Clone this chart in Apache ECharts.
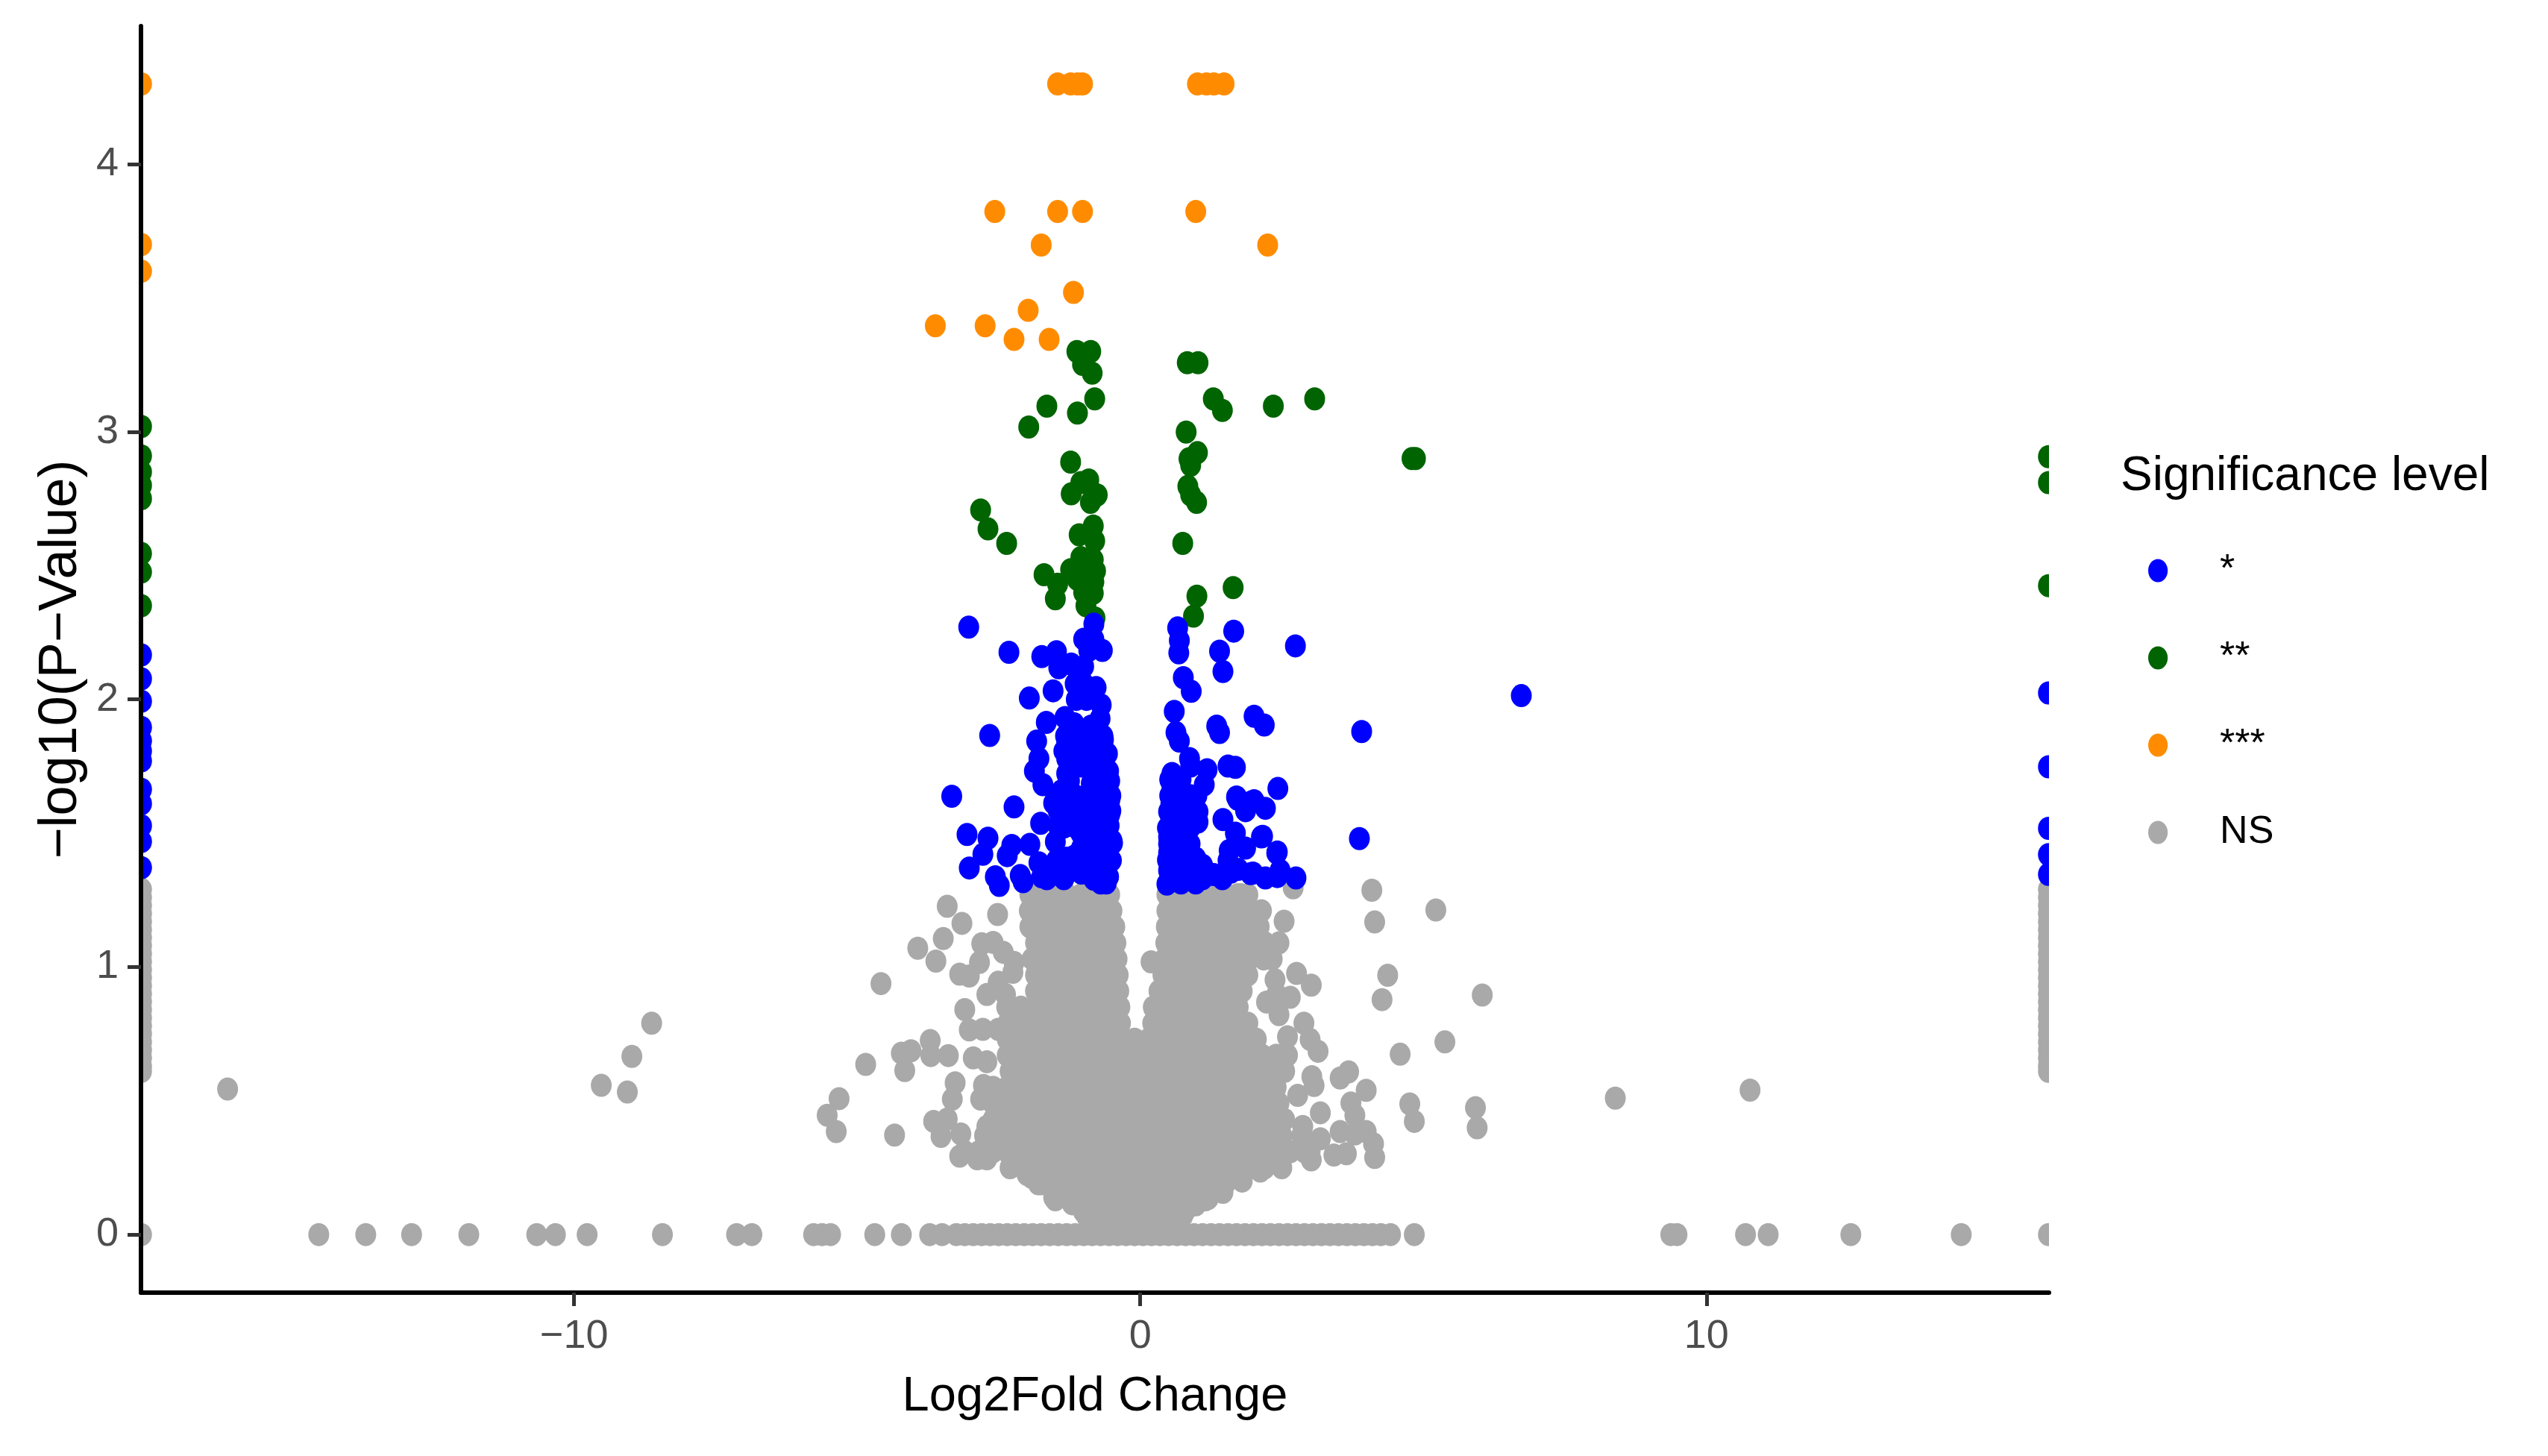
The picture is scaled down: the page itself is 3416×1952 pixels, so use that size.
<!DOCTYPE html>
<html>
<head>
<meta charset="utf-8">
<title>Volcano plot</title>
<script src="https://cdn.jsdelivr.net/npm/echarts@6/dist/echarts.min.js"></script>
<style>
	html, body { margin: 0; padding: 0; background: #ffffff; }
	#main { width: 3416px; height: 1952px; }
</style>
</head>
<body>
<div id="main"></div>
<script>
// tick labels
const xTicks = [-10, 0, 10];
const yTicks = [0, 1, 2, 3, 4];
const levels = ['*', '**', '***', 'NS'];

// *** points, [log2fc, -log10p]
const starThree = [
	[-17.64, 4.30], [-17.64, 3.70], [-17.64, 3.60],
	[-1.46, 4.30], [-1.23, 4.30], [-1.11, 4.30], [-1.02, 4.30],
	[1.01, 4.30], [1.17, 4.30], [1.30, 4.30], [1.48, 4.30],
	[-2.57, 3.823], [-1.46, 3.823], [-1.02, 3.823], [0.98, 3.823],
	[-1.75, 3.698], [2.25, 3.698], [-1.18, 3.521], [-1.98, 3.454],
	[-3.62, 3.396], [-2.74, 3.396], [-2.23, 3.345], [-1.61, 3.345]
];

// ** points
const starTwo = [
	[-17.64, 3.02], [-17.64, 2.91], [-17.64, 2.85], [-17.64, 2.80], [-17.64, 2.75],
	[-17.64, 2.545], [-17.64, 2.476], [-17.64, 2.35],
	[16.04, 2.907], [16.04, 2.81], [16.04, 2.425],
	[-1.12, 3.30], [-0.875, 3.30], [-1.02, 3.252], [-0.85, 3.219], [0.83, 3.258], [1.02, 3.258],
	[-0.805, 3.123], [-1.65, 3.096], [-1.11, 3.07], [1.29, 3.123], [1.45, 3.08], [2.35, 3.096], [3.08, 3.123],
	[-1.97, 3.018], [0.81, 2.999], [1.01, 2.922], [0.86, 2.899], [0.89, 2.875], [-1.23, 2.887],
	[4.80, 2.90], [4.86, 2.90],
	[-0.91, 2.82], [-1.05, 2.81], [-1.22, 2.768], [-0.82, 2.755], [-0.76, 2.764], [-0.88, 2.736],
	[0.84, 2.796], [0.89, 2.764], [0.995, 2.736],
	[-2.82, 2.708], [-2.69, 2.637], [-2.36, 2.583],
	[-0.83, 2.648], [-1.08, 2.615], [-0.805, 2.592], [0.75, 2.583],
	[-0.83, 2.522], [-1.23, 2.485], [-1.70, 2.466], [-0.79, 2.48], [-1.11, 2.448], [-1.46, 2.43],
	[-0.82, 2.439], [-0.99, 2.466], [-1.50, 2.376], [-0.83, 2.397], [-0.96, 2.35], [-0.80, 2.304],
	[-1.05, 2.53], [-0.92, 2.42], [-1.0, 2.40],
	[1.00, 2.386], [1.64, 2.418], [0.94, 2.311]
];

// * points
const starOne = [
	[-17.64, 2.166], [-17.64, 2.077], [-17.64, 1.993], [-17.64, 1.895], [-17.64, 1.845], [-17.64, 1.807],
	[-17.64, 1.77], [-17.64, 1.664], [-17.64, 1.61], [-17.64, 1.528], [-17.64, 1.469], [-17.64, 1.371],
	[16.04, 2.024], [16.04, 1.748], [16.04, 1.518], [16.04, 1.42], [16.04, 1.346],
	[6.73, 2.014], [3.91, 1.88], [3.87, 1.48], [2.74, 2.20],
	[-3.03, 2.27], [-2.32, 2.176], [-1.74, 2.16], [-1.48, 2.178], [-1.44, 2.118],
	[-1.00, 2.225], [-0.82, 2.281], [-0.82, 2.225], [-0.67, 2.183], [-0.91, 2.183], [-1.00, 2.123], [-1.22, 2.132],
	[-1.54, 2.032], [-1.96, 2.005], [-1.15, 2.058], [-0.78, 2.044], [-1.00, 2.058], [-0.69, 1.979], [-0.95, 2.00], [-1.13, 2.00],
	[-2.66, 1.865], [-1.66, 1.914], [-1.33, 1.932], [-1.17, 1.909], [-0.71, 1.928], [-0.87, 1.90],
	[-1.83, 1.844], [-1.30, 1.844], [-0.95, 1.807], [-0.65, 1.849], [-0.82, 1.863], [-0.58, 1.797], [-1.08, 1.85],
	[-1.79, 1.779], [-1.87, 1.732], [-1.30, 1.779], [-1.30, 1.723], [-1.04, 1.751], [-0.78, 1.77], [-0.56, 1.732], [-0.82, 1.714],
	[-1.72, 1.681], [-1.39, 1.658], [-0.56, 1.691], [-0.82, 1.649], [-1.30, 1.677], [-0.865, 1.686],
	[-3.33, 1.638], [-2.23, 1.598], [-1.53, 1.612], [-1.22, 1.612], [-0.95, 1.612], [-0.54, 1.621], [-0.73, 1.593],
	[-0.54, 1.57], [-1.35, 1.565], [-1.09, 1.574], [-0.82, 1.547], [-1.76, 1.537], [-1.35, 1.523], [-0.95, 1.528], [-0.60, 1.528],
	[-3.06, 1.495], [-2.69, 1.481], [-0.49, 1.463], [-0.87, 1.481], [-1.50, 1.468], [-1.05, 1.50],
	[-2.27, 1.454], [-1.95, 1.458], [-2.78, 1.421], [-2.35, 1.416], [-1.04, 1.444], [-1.30, 1.407], [-1.48, 1.398], [-0.78, 1.426], [-0.51, 1.398],
	[-3.02, 1.37], [-1.79, 1.389], [-2.12, 1.342], [-2.56, 1.337], [-2.49, 1.305], [-1.74, 1.337], [-1.48, 1.361], [-1.24, 1.365],
	[-1.00, 1.37], [-0.82, 1.328], [-0.56, 1.337], [-2.07, 1.319], [-1.04, 1.351], [-0.73, 1.361],
	// dense left block
	[-1.32, 1.863], [-1.10, 1.863], [-0.88, 1.863], [-0.66, 1.863],
	[-1.35, 1.807], [-1.12, 1.807], [-0.68, 1.807],
	[-1.20, 1.751], [-0.95, 1.751], [-0.72, 1.751],
	[-1.25, 1.695], [-0.76, 1.695], [-0.54, 1.695],
	[-1.40, 1.64], [-1.15, 1.64], [-0.95, 1.64], [-0.72, 1.64], [-0.52, 1.64],
	[-1.45, 1.584], [-1.25, 1.584], [-1.00, 1.584], [-0.78, 1.584], [-0.52, 1.584],
	[-1.45, 1.528], [-1.20, 1.528], [-0.78, 1.528], [-0.55, 1.528],
	[-1.00, 1.472], [-0.70, 1.472], [-0.50, 1.472],
	[-1.15, 1.416], [-0.90, 1.416], [-0.65, 1.416],
	[-1.20, 1.361], [-0.90, 1.361], [-0.60, 1.361],
	[-1.65, 1.33], [-1.35, 1.33], [-0.70, 1.314], [-0.60, 1.314],
	// upper right
	[0.66, 2.267], [0.69, 2.22], [0.68, 2.174], [0.76, 2.081], [0.90, 2.03],
	[1.65, 2.255], [1.40, 2.18], [1.46, 2.104],
	[0.60, 1.955], [0.63, 1.876], [0.69, 1.844], [1.35, 1.90], [1.40, 1.876], [2.01, 1.937], [2.19, 1.904],
	[0.87, 1.779], [0.56, 1.723], [1.18, 1.737], [1.13, 1.681], [1.55, 1.751], [1.68, 1.746],
	[0.56, 1.667], [0.76, 1.649], [0.89, 1.751], [0.70, 1.70],
	[2.43, 1.667], [1.70, 1.635], [2.01, 1.621], [1.86, 1.584], [2.21, 1.593],
	[0.54, 1.611], [0.80, 1.602], [0.54, 1.556], [0.80, 1.547], [1.02, 1.542], [1.46, 1.551], [1.68, 1.50], [2.14, 1.486],
	[0.50, 1.486], [0.76, 1.491], [0.50, 1.426], [0.76, 1.426], [0.98, 1.407],
	[1.57, 1.435], [1.86, 1.444], [2.41, 1.426], [1.55, 1.398],
	[0.50, 1.361], [0.47, 1.31], [0.72, 1.361], [0.94, 1.351], [1.20, 1.351], [1.73, 1.365], [1.99, 1.351], [2.21, 1.333], [2.47, 1.361],
	[0.72, 1.314], [0.98, 1.314], [2.75, 1.333], [2.42, 1.43], [2.16, 1.488], [1.95, 1.349], [1.60, 1.354], [2.42, 1.338],
	[1.95, 1.616], [1.72, 1.627],
	// dense right block
	[0.52, 1.70], [0.72, 1.70],
	[0.52, 1.64], [0.66, 1.64], [0.88, 1.64], [1.00, 1.64],
	[0.50, 1.58], [0.68, 1.58], [0.90, 1.58], [1.02, 1.58],
	[0.48, 1.52], [0.65, 1.52], [0.88, 1.52],
	[0.50, 1.46], [0.65, 1.46], [0.88, 1.46],
	[0.48, 1.40], [0.65, 1.40], [0.85, 1.40], [1.10, 1.38],
	[0.60, 1.35], [0.85, 1.35], [1.10, 1.33], [1.30, 1.345], [1.45, 1.33]
];

// NS points that stand apart from the main cloud
const nsLoose = [
	[-16.12, 0.544], [-9.52, 0.558], [-9.06, 0.533], [-8.98, 0.666], [-8.63, 0.79],
	[8.39, 0.51], [10.77, 0.54],
	[-3.41, 1.227], [-3.15, 1.163], [-2.52, 1.196], [-3.48, 1.106], [-3.93, 1.07], [-3.61, 1.022], [-4.58, 0.938],
	[-2.80, 1.087], [-2.60, 1.092], [-2.42, 1.055], [-2.84, 1.017], [-3.19, 0.973], [-3.02, 0.966], [-2.51, 0.943],
	[-2.71, 0.897], [-2.38, 0.897], [-2.23, 1.017], [-2.25, 0.98], [-3.10, 0.841],
	[-3.02, 0.765], [-2.78, 0.767], [-2.51, 0.767], [-3.71, 0.725], [-4.05, 0.687], [-4.22, 0.678], [-3.70, 0.669], [-3.39, 0.669],
	[-4.16, 0.613], [-4.85, 0.636], [-2.95, 0.66], [-2.71, 0.646], [-3.27, 0.567], [-2.77, 0.557], [-3.32, 0.506],
	[-2.82, 0.506], [-5.32, 0.508], [-5.53, 0.446], [-5.37, 0.385], [-4.34, 0.372], [-3.65, 0.423], [-3.41, 0.432],
	[-3.52, 0.367], [-3.17, 0.376], [-2.71, 0.404], [-3.19, 0.293], [-2.88, 0.283], [-2.71, 0.283],
	[2.70, 1.296], [2.54, 1.171], [0.19, 1.019], [2.38, 0.952], [2.76, 0.976], [3.02, 0.932], [2.23, 0.869], [2.45, 0.822],
	[2.65, 0.887], [2.41, 0.897], [2.89, 0.79], [2.60, 0.739], [3.00, 0.729], [3.14, 0.685],
	[3.03, 0.59], [3.07, 0.557], [2.78, 0.52], [3.68, 0.608], [3.53, 0.585], [3.99, 0.539], [3.72, 0.492], [3.79, 0.446], [3.18, 0.455],
	[4.76, 0.488], [4.84, 0.423], [5.92, 0.474], [5.95, 0.399], [2.87, 0.404], [3.18, 0.358], [3.53, 0.385], [3.99, 0.385],
	[4.12, 0.339], [4.14, 0.288], [3.79, 0.376], [3.42, 0.297], [3.64, 0.302], [3.02, 0.279],
	[4.59, 0.674], [5.38, 0.72], [4.37, 0.969], [4.27, 0.878], [6.04, 0.895], [5.22, 1.213], [4.09, 1.287], [4.14, 1.168],
	[-1.53, 1.282], [1.46, 1.287], [1.78, 1.27],
	// lower rim of the cloud
	[-2.27, 0.255], [-2.00, 0.225], [-1.92, 0.214], [-1.75, 0.19], [-1.53, 0.139], [-1.20, 0.115], [-1.00, 0.085], [-0.85, 0.06],
	[2.47, 0.265], [2.12, 0.237], [1.80, 0.20], [1.46, 0.158], [1.20, 0.135], [0.98, 0.111], [0.80, 0.09], [0.67, 0.075]
];

// NS points stuck on the left and right panel edges
const nsEdgeLevels = [1.29, 1.26, 1.23, 1.20, 1.17, 1.14, 1.11, 1.08, 1.05, 1.02, 0.99, 0.96, 0.93, 0.90, 0.87, 0.84, 0.81, 0.78, 0.75, 0.72, 0.69, 0.66, 0.63, 0.61];
const edgeLeft = -17.64;
const edgeRight = 16.04;

// NS points with p = 1, along the zero line
const nsZero = [
	-17.64, -14.51, -13.68, -12.87, -11.86, -10.66, -10.33, -9.77, -8.44, -7.13, -6.86, -5.77, -5.62, -5.47, -4.69, -4.22, -3.72, -3.50,
	-3.25, -3.10, -2.95, -2.80, -2.65, -2.50, -2.35, -2.20, -2.05, -1.90, -1.75, -1.60, -1.45, -1.30, -1.15, -1.00, -0.85, -0.70, -0.55, -0.40, -0.25, -0.10,
	0.05, 0.20, 0.35, 0.50, 0.65, 0.80, 0.95, 1.10, 1.25, 1.40, 1.55, 1.70, 1.85, 2.00, 2.15, 2.30, 2.45, 2.60, 2.75, 2.90, 3.05, 3.20, 3.35, 3.50, 3.65, 3.80, 3.95, 4.10, 4.25, 4.42,
	4.84, 9.37, 9.48, 10.69, 11.09, 12.55, 14.50, 16.04
];

// the dense NS cloud read row by row: [-log10p, [log2fc, ...]]
const nsCloud = [
	[1.27, [-1.95, -1.79, -1.54, -1.29, -1.04, -0.79, -0.54, 0.47, 0.72, 0.97, 1.22, 1.47, 1.72, 1.90]],
	[1.21, [-1.96, -1.75, -1.50, -1.25, -1.00, -0.75, -0.50, 0.47, 0.72, 0.97, 1.22, 1.47, 1.72, 1.97, 2.14]],
	[1.15, [-1.95, -1.70, -1.45, -1.20, -0.95, -0.70, -0.45, 0.46, 0.71, 0.96, 1.21, 1.46, 1.71, 1.96, 2.10]],
	[1.09, [-1.85, -1.68, -1.43, -1.18, -0.93, -0.68, -0.43, 0.45, 0.70, 0.95, 1.20, 1.45, 1.70, 1.95, 2.20, 2.45]],
	[1.03, [-1.91, -1.66, -1.41, -1.16, -0.91, -0.66, -0.41, 0.43, 0.68, 0.93, 1.18, 1.43, 1.68, 1.93, 2.18, 2.33]],
	[0.97, [-1.85, -1.64, -1.39, -1.14, -0.89, -0.64, -0.39, 0.40, 0.65, 0.90, 1.15, 1.40, 1.65, 1.90]],
	[0.91, [-1.85, -1.63, -1.38, -1.13, -0.88, -0.63, -0.38, 0.33, 0.58, 0.83, 1.08, 1.33, 1.58, 1.80]],
	[0.85, [-2.36, -2.11, -1.86, -1.61, -1.36, -1.11, -0.86, -0.61, -0.36, 0.23, 0.48, 0.73, 0.98, 1.23, 1.48, 1.73]],
	[0.79, [-2.34, -2.09, -1.84, -1.59, -1.34, -1.09, -0.84, -0.59, -0.35, 0.22, 0.40, 0.65, 0.90, 1.15, 1.40, 1.65, 1.90]],
	[0.73, [-2.35, -2.10, -1.85, -1.60, -1.35, -1.10, -0.85, -0.60, -0.35, -0.10, 0.15, 0.40, 0.65, 0.90, 1.15, 1.40, 1.65, 1.90, 2.05]],
	[0.67, [-2.35, -2.10, -1.85, -1.60, -1.35, -1.10, -0.85, -0.60, -0.35, -0.10, 0.15, 0.40, 0.65, 0.90, 1.15, 1.40, 1.65, 1.90, 2.15, 2.40, 2.60]],
	[0.61, [-2.30, -2.05, -1.80, -1.55, -1.30, -1.05, -0.80, -0.55, -0.30, -0.05, 0.20, 0.45, 0.70, 0.95, 1.20, 1.45, 1.70, 1.95, 2.20, 2.30, 2.55]],
	[0.55, [-2.60, -2.35, -2.10, -1.85, -1.60, -1.35, -1.10, -0.85, -0.60, -0.35, -0.10, 0.15, 0.40, 0.65, 0.90, 1.15, 1.40, 1.65, 1.90, 2.15, 2.40]],
	[0.49, [-2.60, -2.35, -2.10, -1.85, -1.60, -1.35, -1.10, -0.85, -0.60, -0.35, -0.10, 0.15, 0.40, 0.65, 0.90, 1.15, 1.40, 1.65, 1.90, 2.15, 2.45]],
	[0.43, [-2.60, -2.35, -2.10, -1.85, -1.60, -1.35, -1.10, -0.85, -0.60, -0.35, -0.10, 0.15, 0.40, 0.65, 0.90, 1.15, 1.40, 1.65, 1.90, 2.15, 2.40, 2.55]],
	[0.37, [-2.75, -2.50, -2.25, -2.00, -1.75, -1.50, -1.25, -1.00, -0.75, -0.50, -0.25, 0.00, 0.25, 0.50, 0.75, 1.00, 1.25, 1.50, 1.75, 2.00, 2.25, 2.50, 2.85]],
	[0.31, [-3.10, -2.85, -2.60, -2.35, -2.10, -1.85, -1.60, -1.35, -1.10, -0.85, -0.60, -0.35, -0.10, 0.15, 0.40, 0.65, 0.90, 1.15, 1.40, 1.65, 1.90, 2.15, 2.40, 2.65, 2.90, 3.00]],
	[0.25, [-2.30, -2.05, -1.80, -1.55, -1.30, -1.05, -0.80, -0.55, -0.30, -0.05, 0.20, 0.45, 0.70, 0.95, 1.20, 1.45, 1.70, 1.95, 2.20, 2.50]],
	[0.19, [-1.80, -1.55, -1.30, -1.05, -0.80, -0.55, -0.30, -0.05, 0.20, 0.45, 0.70, 0.95, 1.20, 1.50]],
	[0.13, [-1.50, -1.25, -1.00, -0.75, -0.50, -0.25, 0.00, 0.25, 0.50, 0.75, 1.00, 1.15]],
	[0.07, [-0.95, -0.70, -0.45, -0.20, 0.05, 0.30, 0.55, 0.75]]
];

function buildNs() {
	let points = nsLoose.slice();
	nsEdgeLevels.forEach(y => {
		points.push([edgeLeft, y]);
		points.push([edgeRight, y]);
	});
	nsZero.forEach(x => points.push([x, 0]));
	nsCloud.forEach(row => {
		row[1].forEach(x => points.push([x, row[0]]));
	});
	return points;
}

// the dots of the picture are a bit taller than wide
const dotPath = 'path://M0,16A13.5,16 0 1 1 27,16A13.5,16 0 1 1 0,16Z';
const dotSize = [28, 31];
const labelFont = 'Liberation Sans';

function dotSeries(name, color, data) {
	return {
		name: name,
		type: 'scatter',
		symbol: dotPath,
		symbolSize: dotSize,
		z: 2,
		itemStyle: { color: color, opacity: 1 },
		data: data
	};
}

const myChart = echarts.init(document.getElementById('main'), null, { renderer: 'canvas' });

myChart.setOption({
	animation: false,
	backgroundColor: '#ffffff',
	title: {
		text: 'Significance level',
		left: 2843,
		top: 607,
		padding: 0,
		textStyle: { fontFamily: labelFont, fontSize: 64, fontWeight: 'normal', color: '#000000' }
	},
	legend: {
		data: levels,
		orient: 'vertical',
		left: 2880,
		top: 739,
		padding: 0,
		itemWidth: 28,
		itemHeight: 31,
		itemGap: 65,
		icon: dotPath,
		textStyle: { fontFamily: labelFont, fontSize: 52, color: '#000000', padding: [0, 0, 0, 64] }
	},
	// the scatter does not cut its dots at the panel edge, so white strips hide the outer halves
	graphic: [{
		z: 3,
		elements: [
			{ type: 'rect', z: 3, shape: { x: 172, y: 30, width: 17, height: 1703 }, style: { fill: '#ffffff' } },
			{ type: 'rect', z: 3, shape: { x: 2747, y: 30, width: 17, height: 1703 }, style: { fill: '#ffffff' } }
		]
	}],
	grid: { left: 189, right: 669, top: 35, bottom: 219 },
	xAxis: {
		type: 'value',
		z: 4,
		min: -17.65,
		max: 16.05,
		name: 'Log2Fold Change',
		nameLocation: 'middle',
		nameGap: 108,
		nameTextStyle: { fontFamily: labelFont, fontSize: 65, color: '#000000' },
		splitLine: { show: false },
		axisLine: { onZero: false, lineStyle: { color: '#000000', width: 6 } },
		axisTick: { customValues: xTicks, length: 18, lineStyle: { color: '#333333', width: 5 } },
		axisLabel: {
			customValues: xTicks,
			margin: 32,
			fontFamily: labelFont,
			fontSize: 54,
			color: '#4d4d4d',
			formatter: v => String(v).replace('-', '\u2212')
		}
	},
	yAxis: {
		type: 'value',
		z: 4,
		min: -0.217,
		max: 4.516,
		name: '\u2212log10(P\u2212Value)',
		nameLocation: 'middle',
		nameGap: 70,
		nameTextStyle: { fontFamily: labelFont, fontSize: 72, color: '#000000' },
		splitLine: { show: false },
		axisLine: { onZero: false, lineStyle: { color: '#000000', width: 6 } },
		axisTick: { customValues: yTicks, length: 18, lineStyle: { color: '#333333', width: 5 } },
		axisLabel: {
			customValues: yTicks,
			margin: 30,
			fontFamily: labelFont,
			fontSize: 54,
			color: '#4d4d4d'
		}
	},
	series: [
		dotSeries('NS', '#a9a9a9', buildNs()),
		dotSeries('***', '#ff8c00', starThree),
		dotSeries('**', '#006400', starTwo),
		dotSeries('*', '#0000ff', starOne)
	]
});
</script>
</body>
</html>
